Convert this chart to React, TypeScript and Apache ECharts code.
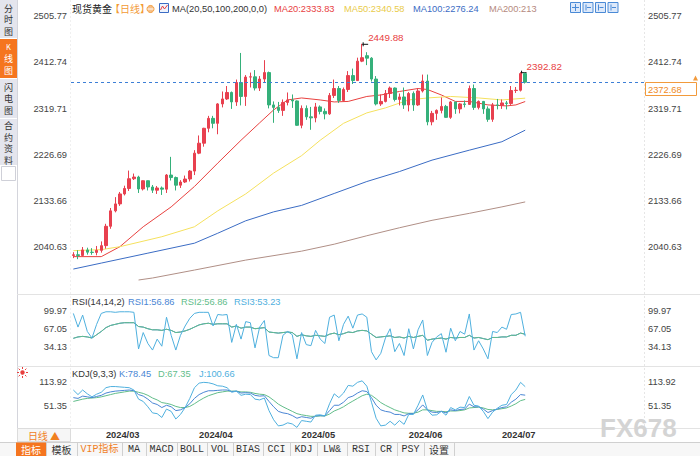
import React, { useEffect, useRef } from "react";
import * as echarts from "echarts";

// ---------- data ----------
const dates: string[] = [
  "2024/02/21", "2024/02/22", "2024/02/23", "2024/02/26", "2024/02/27", "2024/02/28", "2024/02/29",
  "2024/03/01", "2024/03/04", "2024/03/05", "2024/03/06", "2024/03/07", "2024/03/08", "2024/03/11",
  "2024/03/12", "2024/03/13", "2024/03/14", "2024/03/15", "2024/03/18", "2024/03/19", "2024/03/20",
  "2024/03/21", "2024/03/22", "2024/03/25", "2024/03/26", "2024/03/27", "2024/03/28",
  "2024/04/01", "2024/04/02", "2024/04/03", "2024/04/04", "2024/04/05", "2024/04/08", "2024/04/09",
  "2024/04/10", "2024/04/11", "2024/04/12", "2024/04/15", "2024/04/16", "2024/04/17", "2024/04/18",
  "2024/04/19", "2024/04/22", "2024/04/23", "2024/04/24", "2024/04/25", "2024/04/26", "2024/04/29",
  "2024/04/30",
  "2024/05/01", "2024/05/02", "2024/05/03", "2024/05/06", "2024/05/07", "2024/05/08", "2024/05/09",
  "2024/05/10", "2024/05/13", "2024/05/14", "2024/05/15", "2024/05/16", "2024/05/17", "2024/05/20",
  "2024/05/21", "2024/05/22", "2024/05/23", "2024/05/24", "2024/05/27", "2024/05/28", "2024/05/29",
  "2024/05/30", "2024/05/31",
  "2024/06/03", "2024/06/04", "2024/06/05", "2024/06/06", "2024/06/07", "2024/06/10", "2024/06/11",
  "2024/06/12", "2024/06/13", "2024/06/14", "2024/06/17", "2024/06/18", "2024/06/19", "2024/06/20",
  "2024/06/21", "2024/06/24", "2024/06/25", "2024/06/26", "2024/06/27", "2024/06/28",
  "2024/07/01", "2024/07/02", "2024/07/03", "2024/07/04", "2024/07/05", "2024/07/08",
];

// [open, close, low, high]
const candles: number[][] = [
  [2024.4, 2025.7, 2019.0, 2030.9], [2025.7, 2024.3, 2016.9, 2034.9], [2024.3, 2035.4, 2022.3, 2041.3],
  [2035.4, 2030.9, 2026.0, 2040.0], [2030.9, 2030.4, 2025.7, 2039.0], [2030.4, 2034.6, 2024.6, 2043.4],
  [2034.6, 2044.1, 2030.0, 2052.6], [2044.1, 2083.0, 2038.0, 2088.0], [2083.0, 2114.0, 2078.0, 2119.8],
  [2114.0, 2128.0, 2111.0, 2141.6], [2128.0, 2148.0, 2124.0, 2152.0], [2148.0, 2159.0, 2145.0, 2164.6],
  [2159.0, 2178.6, 2154.0, 2195.0], [2178.6, 2182.0, 2176.0, 2189.0], [2182.0, 2158.0, 2150.0, 2184.6],
  [2158.0, 2174.6, 2155.0, 2175.0], [2174.6, 2162.0, 2155.0, 2175.0], [2162.0, 2155.6, 2150.0, 2166.0],
  [2155.6, 2160.0, 2148.0, 2164.0], [2160.0, 2157.6, 2146.0, 2163.0], [2157.6, 2186.0, 2150.0, 2188.0],
  [2186.0, 2181.0, 2175.0, 2222.6], [2181.0, 2165.6, 2155.0, 2183.0], [2165.6, 2172.0, 2160.0, 2175.8],
  [2172.0, 2178.0, 2170.0, 2185.0], [2178.0, 2194.0, 2173.0, 2196.0], [2194.0, 2230.0, 2186.0, 2236.0],
  [2230.0, 2250.0, 2228.0, 2265.6], [2250.0, 2280.0, 2243.0, 2281.0], [2280.0, 2300.0, 2272.0, 2305.0],
  [2300.0, 2290.0, 2280.0, 2305.0], [2290.0, 2329.0, 2268.0, 2330.6], [2329.0, 2339.0, 2322.0, 2354.0],
  [2339.0, 2352.0, 2337.0, 2365.0], [2352.0, 2333.0, 2319.0, 2354.0], [2333.0, 2372.0, 2325.0, 2378.0],
  [2372.0, 2344.0, 2326.0, 2431.5], [2344.0, 2383.0, 2325.0, 2387.0], [2383.0, 2383.5, 2362.0, 2392.0],
  [2383.5, 2361.0, 2356.0, 2397.0], [2361.0, 2379.0, 2355.0, 2385.0], [2379.0, 2392.0, 2371.0, 2417.0],
  [2392.0, 2327.0, 2320.0, 2394.0], [2327.0, 2322.0, 2291.0, 2334.0], [2322.0, 2316.0, 2311.0, 2333.0],
  [2316.0, 2332.0, 2305.0, 2338.0], [2332.0, 2337.0, 2326.0, 2352.0], [2337.0, 2335.0, 2321.0, 2348.0],
  [2335.0, 2286.0, 2285.0, 2336.0], [2286.0, 2320.0, 2280.0, 2326.0], [2320.0, 2303.0, 2297.0, 2326.0],
  [2303.0, 2301.0, 2277.0, 2323.0], [2301.0, 2323.0, 2292.0, 2331.0], [2323.0, 2314.0, 2308.0, 2326.0],
  [2314.0, 2309.0, 2298.0, 2320.0], [2309.0, 2346.0, 2307.0, 2351.0], [2346.0, 2360.0, 2341.0, 2378.0],
  [2360.0, 2336.0, 2331.0, 2365.0], [2336.0, 2358.0, 2334.0, 2362.0], [2358.0, 2386.0, 2353.0, 2395.0],
  [2386.0, 2376.0, 2369.0, 2400.0], [2376.0, 2415.0, 2375.0, 2422.0], [2415.0, 2422.0, 2413.0, 2449.88],
  [2426.0, 2421.0, 2407.0, 2433.0], [2421.0, 2379.0, 2374.0, 2423.0], [2379.0, 2329.0, 2326.0, 2385.0],
  [2329.0, 2334.0, 2325.0, 2348.0], [2334.0, 2350.0, 2332.0, 2357.0], [2350.0, 2361.0, 2341.0, 2364.0],
  [2361.0, 2338.0, 2334.0, 2362.0], [2338.0, 2343.0, 2326.0, 2350.0], [2343.0, 2327.0, 2319.0, 2362.0],
  [2327.0, 2350.0, 2314.0, 2353.0], [2350.0, 2327.0, 2315.0, 2354.0], [2327.0, 2355.0, 2325.0, 2361.0],
  [2355.0, 2375.0, 2352.0, 2388.0], [2375.0, 2293.0, 2286.0, 2388.0], [2293.0, 2310.0, 2286.0, 2315.0],
  [2310.0, 2316.0, 2297.0, 2318.0], [2316.0, 2324.0, 2310.0, 2342.0], [2324.0, 2302.0, 2301.0, 2327.0],
  [2302.0, 2333.0, 2299.0, 2335.0], [2333.0, 2319.0, 2309.0, 2333.0], [2319.0, 2329.0, 2310.0, 2331.0],
  [2329.0, 2328.0, 2322.0, 2336.0], [2328.0, 2360.0, 2327.0, 2366.0], [2360.0, 2322.0, 2317.0, 2368.0],
  [2322.0, 2334.0, 2318.0, 2336.0], [2334.0, 2319.0, 2309.0, 2335.0], [2319.0, 2298.0, 2293.0, 2324.0],
  [2298.0, 2327.0, 2293.0, 2331.0], [2327.0, 2326.0, 2318.0, 2339.0], [2326.0, 2331.0, 2319.0, 2338.0],
  [2331.0, 2330.0, 2318.0, 2335.0], [2330.0, 2356.0, 2327.0, 2365.0], [2356.0, 2356.5, 2351.0, 2363.0],
  [2356.5, 2390.0, 2354.0, 2392.82], [2390.0, 2372.68, 2370.0, 2392.0],
];

const currentPrice = 2372.68;
const highMarks: number[][] = [[62, 2449.88], [96, 2392.82]];

// moving averages: [candle index, value]
const ma20: number[][] = [
  [0, 2022], [6, 2022], [10, 2042], [15, 2082], [21, 2122], [26, 2163], [31, 2210], [36, 2256],
  [40, 2291], [43, 2317], [46, 2337], [49, 2341], [53, 2337], [56, 2333], [59, 2334], [63, 2344],
  [66, 2347], [70, 2354], [74, 2360], [76, 2358], [79, 2347], [82, 2334], [85, 2334], [89, 2327],
  [93, 2325], [95, 2327], [97, 2333.83],
];
const ma50: number[][] = [
  [0, 2034], [6, 2036], [10, 2042], [19, 2062], [26, 2082], [31, 2114], [37, 2148], [43, 2190],
  [49, 2225], [53, 2256], [58, 2290], [63, 2311], [67, 2321], [72, 2337], [76, 2341], [81, 2344],
  [87, 2341], [92, 2337], [97, 2340.58],
];
const ma100: number[][] = [
  [0, 1997], [6, 2009], [16, 2029], [26, 2049], [31, 2069], [37, 2094], [43, 2112], [49, 2125],
  [56, 2149], [63, 2173], [70, 2193], [77, 2216], [85, 2236], [92, 2253], [97, 2276.24],
];
const ma200: number[][] = [
  [14, 1975], [17, 1979], [26, 1995], [37, 2015], [49, 2033], [56, 2047], [63, 2064], [70, 2080],
  [77, 2095], [85, 2109], [92, 2122], [97, 2132],
];

const rsi2: number[] = [
  49.5, 52, 53, 52, 50, 56, 62, 69, 73, 75,
  77, 78, 78, 78, 71, 70, 67, 65, 65, 64,
  66, 64, 60, 61, 63, 66, 70, 74, 76, 77,
  75, 76, 76, 76, 70, 72, 68, 70, 70, 67,
  68, 69, 61, 60, 59, 60, 61, 60, 53, 56,
  54, 53, 55, 54, 53, 57, 59, 56, 58, 61,
  60, 63, 64, 63, 57, 51, 52, 53, 54, 51,
  52, 50, 53, 51, 53, 55, 46, 48, 49, 50,
  48, 51, 50, 51, 51, 55, 50, 51, 49, 47,
  51, 51, 52, 52, 55, 55, 59, 56.86,
];
const rsi1: number[] = rsi2.slice();
const rsi3: number[] = [
  95, 70, 92, 62, 50, 75, 95, 98, 98, 97,
  98, 98, 98, 97, 30, 60, 40, 28, 48, 35,
  88, 55, 28, 55, 72, 86, 95, 97, 97, 97,
  72, 93, 92, 93, 42, 75, 48, 80, 78, 32,
  70, 82, 18, 14, 14, 55, 62, 56, 12, 60,
  38, 36, 64, 48, 40, 88, 92, 45, 75, 90,
  68, 92, 94, 88, 25, 10, 22, 50, 67, 25,
  40, 18, 67, 30, 65, 83, 18, 42, 52, 58,
  24, 68, 45, 62, 57, 94, 28, 45, 30, 12,
  62, 60, 70, 66, 93, 94, 97, 53.23,
];

const kLine: number[] = [
  72, 70, 76, 74, 72, 75, 78, 84, 87, 89,
  90, 91, 92, 90, 80, 76, 68, 58, 54, 46,
  52, 48, 38, 40, 46, 56, 70, 80, 86, 90,
  90, 91, 92, 92, 88, 89, 84, 85, 84, 78,
  76, 77, 62, 48, 36, 32, 30, 25, 18, 22,
  20, 18, 24, 25, 24, 38, 52, 52, 60, 72,
  76, 84, 90, 88, 72, 52, 40, 36, 34, 28,
  28, 24, 30, 30, 40, 53, 40, 34, 33, 36,
  32, 40, 38, 41, 42, 55, 48, 48, 42, 33,
  38, 42, 46, 48, 60, 68, 80, 78.45,
];
const dLine: number[] = [
  62, 65, 68, 70, 71, 72, 74, 77, 80, 83,
  85, 87, 89, 89, 86, 83, 78, 71, 66, 59,
  57, 54, 49, 46, 46, 49, 56, 64, 71, 77,
  81, 85, 87, 89, 89, 89, 87, 87, 86, 83,
  81, 80, 74, 65, 55, 48, 42, 36, 30, 27,
  25, 23, 23, 24, 24, 29, 37, 42, 48, 56,
  63, 70, 77, 81, 78, 69, 59, 52, 46, 40,
  36, 32, 31, 31, 34, 40, 40, 38, 36, 36,
  35, 37, 37, 38, 40, 45, 46, 47, 45, 41,
  40, 41, 43, 45, 50, 56, 64, 67.35,
];
const jLine: number[] = [
  92, 80, 92, 82, 74, 81, 86, 98, 101, 101,
  100, 99, 98, 92, 68, 62, 48, 32, 30, 20,
  42, 36, 16, 28, 46, 70, 98, 110, 112, 111,
  108, 103, 102, 98, 86, 89, 78, 81, 80, 68,
  66, 71, 38, 14, -2, 0, 6, 3, -6, 12,
  10, 8, 26, 27, 24, 56, 82, 72, 84, 104,
  102, 112, 116, 102, 60, 18, -2, 0, 10, 0,
  12, 2, 28, 28, 52, 79, 40, 26, 27, 36,
  26, 46, 40, 47, 46, 75, 52, 50, 36, 17,
  34, 44, 52, 54, 80, 92, 112, 100.66,
];

const mainTicks = [2040.63, 2133.66, 2226.69, 2319.71, 2412.74, 2505.77];
const rsiTicks = [34.13, 67.05, 99.97];
const kdjTicks = [51.35, 113.92];

const toolbarLabels = ["指标", "模板", "VIP指标", "MA", "MACD", "BOLL", "VOL", "BIAS", "CCI", "KDJ", "LW&", "RSI", "CR", "PSY", "设置"];
const sideTabs = [["分", "时", "图"], ["K", "线", "图"], ["闪", "电", "图"], ["合", "约", "资", "料"]];

// ---------- styling ----------
const FONT = '"Liberation Sans", Arial, "Noto Sans CJK SC", sans-serif';
const CJK = '"Noto Sans CJK SC", "Liberation Sans", sans-serif';
const MONO = '"Liberation Mono", "Noto Sans CJK SC", monospace';
const FS = 9.3;
const UP = "#e8404f";
const DOWN = "#35b07a";
const C_MA20 = "#e8413f";
const C_MA50 = "#f5e15e";
const C_MA100 = "#3b6cc4";
const C_MA200 = "#b08f86";
const C_R1 = "#4a86d4";
const C_R2 = "#62bd8a";
const C_R3 = "#4fb0de";
const ORANGE = "#f5751f";
const SLOTS = 123;

function txt(x: number, y: number, text: string, fill: string, size = FS, align = "left", family = FONT, extra: any = {}) {
  return {
    type: "text",
    x,
    y,
    silent: true,
    style: {
      text,
      fill,
      fontSize: size,
      fontFamily: family,
      align,
      verticalAlign: "middle",
      textAlign: align,
      textVerticalAlign: "middle",
      ...extra,
    },
  };
}
function ln(x1: number, y1: number, x2: number, y2: number, stroke: string, dash?: number[], w = 1) {
  return {
    type: "line",
    silent: true,
    shape: { x1, y1, x2, y2 },
    style: { stroke, lineWidth: w, lineDash: dash },
  };
}
function rc(x: number, y: number, w: number, h: number, fill: string, stroke?: string) {
  return {
    type: "rect",
    silent: true,
    shape: { x, y, width: w, height: h },
    style: { fill, stroke, lineWidth: 1 },
  };
}

export default function App() {
  const ref = useRef<HTMLDivElement>(null);

  useEffect(() => {
    document.body.style.margin = "0";
    const chart = echarts.init(ref.current as HTMLDivElement, null, { renderer: "svg", width: 700, height: 456 });

    const cats: string[] = dates.concat(
      Array.from({ length: SLOTS - dates.length }, (_, k) => "pad" + k)
    );
    const monthStart = new Set<number>();
    dates.forEach((d, i) => {
      if (i > 0 && d.slice(0, 7) !== dates[i - 1].slice(0, 7)) monthStart.add(i);
    });

    const yAx = (grid: number, pos: string, min: number, max: number, ticks: number[]) => ({
      type: "value",
      gridIndex: grid,
      position: pos,
      min,
      max,
      axisLine: { show: false },
      axisTick: { show: false },
      splitLine: { show: false },
      axisLabel: {
        customValues: ticks,
        margin: 4,
        color: "#444",
        fontSize: FS,
        fontFamily: FONT,
        formatter: (v: number) => v.toFixed(2),
      },
    });

    const xAx = (grid: number) => ({
      type: "category",
      gridIndex: grid,
      data: cats,
      boundaryGap: true,
      axisLine: { show: false },
      axisTick: { show: false },
      splitLine: { show: false },
      axisLabel:
        grid === 2
          ? {
              show: true,
              interval: (idx: number) => monthStart.has(idx),
              formatter: (v: string) => v.slice(0, 7),
              align: "left",
              margin: 2,
              color: "#333",
              fontWeight: "bold",
              fontSize: FS,
              fontFamily: FONT,
            }
          : { show: false },
    });

    const maSeries = (name: string, data: number[][], color: string) => ({
      name,
      type: "line",
      xAxisIndex: 0,
      yAxisIndex: 0,
      data,
      showSymbol: false,
      silent: true,
      lineStyle: { color, width: 1 },
      z: 3,
    });
    const subSeries = (name: string, data: number[], color: string, xi: number, yi: number) => ({
      name,
      type: "line",
      xAxisIndex: xi,
      yAxisIndex: yi,
      data,
      showSymbol: false,
      silent: true,
      lineStyle: { color, width: 1 },
    });

    const option: any = {
      animation: false,
      backgroundColor: "#ffffff",
      grid: [
        { left: 71, top: 8, width: 573, height: 285 },
        { left: 71, top: 294, width: 573, height: 72 },
        { left: 71, top: 366, width: 573, height: 62 },
      ],
      xAxis: [xAx(0), xAx(1), xAx(2)],
      yAxis: [
        yAx(0, "left", 1948.87, 2521.85, mainTicks),
        yAx(0, "right", 1948.87, 2521.85, mainTicks),
        yAx(1, "left", -1.16, 130.51, rsiTicks),
        yAx(1, "right", -1.16, 130.51, rsiTicks),
        yAx(2, "left", -7.56, 154.85, kdjTicks),
        yAx(2, "right", -7.56, 154.85, kdjTicks),
      ],
      series: [
        {
          name: "现货黄金",
          type: "candlestick",
          xAxisIndex: 0,
          yAxisIndex: 0,
          data: candles,
          barWidth: 3,
          silent: true,
          itemStyle: { color: UP, color0: DOWN, borderColor: UP, borderColor0: DOWN, borderWidth: 1 },
          markLine: {
            silent: true,
            symbol: "none",
            label: { show: false },
            lineStyle: { color: "#3d7fd6", type: [3, 3], width: 1 },
            data: [{ yAxis: currentPrice }],
          },
          z: 4,
        },
        maSeries("MA20", ma20, C_MA20),
        maSeries("MA50", ma50, C_MA50),
        maSeries("MA100", ma100, C_MA100),
        maSeries("MA200", ma200, C_MA200),
        subSeries("RSI1", rsi1, C_R1, 1, 2),
        subSeries("RSI2", rsi2, C_R2, 1, 2),
        subSeries("RSI3", rsi3, C_R3, 1, 2),
        subSeries("D", dLine, C_R2, 2, 4),
        subSeries("K", kLine, C_R1, 2, 4),
        subSeries("J", jLine, C_R3, 2, 4),
      ],
    };
    chart.setOption(option);

    const toPx = (i: number, v: number) => chart.convertToPixel({ seriesIndex: 0 }, [i, v]) as number[];

    const els: any[] = [];
    // left side bar
    els.push(rc(0, 0, 17, 165, "#e4e5ed"));
    els.push(rc(0, 39, 17, 39, ORANGE));
    els.push(ln(0, 38.5, 17, 38.5, "#ffffff"));
    els.push(ln(0, 78.5, 17, 78.5, "#ffffff"));
    els.push(ln(0, 118.5, 17, 118.5, "#ffffff"));
    els.push(rc(1.5, 166.5, 14, 14, "#ffffff", "#cfd0d8"));
    els.push(ln(17.5, 0, 17.5, 442, "#d4d5dc"));
    const sideY = [[8, 19.5, 31], [46, 58, 70], [87, 98.5, 110], [125.5, 137, 148.5, 160]];
    sideTabs.forEach((tab, t) => {
      tab.forEach((ch, k) => {
        els.push(txt(8.5, sideY[t][k], ch, t === 1 ? "#ffffff" : "#333333", ch === "K" ? 7.5 : 9, "center", CJK));
      });
    });

    // panel frames
    els.push(ln(17, 294.5, 700, 294.5, "#e3e3e3"));
    els.push(ln(17, 366.5, 700, 366.5, "#e3e3e3"));
    els.push(ln(17, 428.5, 700, 428.5, "#e3e3e3"));
    els.push(ln(644.5, 0, 644.5, 428, "#e6e6e6", [2, 2]));
    els.push(ln(70.5, 0, 70.5, 428, "#f0f0f0", [2, 2]));

    // title row
    els.push(txt(72, 8.5, "现货黄金", "#222222", 10, "left", CJK));
    els.push(txt(110, 8.5, "【日线】", "#f39a35", 10, "left", CJK));
    els.push({ type: "circle", silent: true, shape: { cx: 150.5, cy: 9, r: 3.5 }, style: { fill: "#f6c08a", stroke: "#f39a35", lineWidth: 1 } });
    els.push(ln(147.5, 9, 153.5, 9, "#ffffff"));
    els.push(rc(159.5, 3.5, 9, 9, "#eef3fc", "#3b6cc4"));
    els.push({ type: "polyline", silent: true, shape: { points: [[160.5, 10], [162.5, 6], [164.5, 9], [167.5, 5]] }, style: { stroke: "#e8413f", fill: "none", lineWidth: 1 } });
    els.push(txt(172, 8.5, "MA(20,50,100,200,0,0)", "#333333"));
    els.push(txt(274, 8.5, "MA20:2333.83", C_MA20));
    els.push(txt(344, 8.5, "MA50:2340.58", "#e9cb4a"));
    els.push(txt(413, 8.5, "MA100:2276.24", C_MA100));
    els.push(txt(489, 8.5, "MA200:213", "#b58a7e"));
    // tool icons
    [0, 1, 2, 3].forEach((k) => {
      const x = 570 + k * 12.5;
      els.push(rc(x + 0.5, 2.5, 10, 10, "#dde9fa", "#4a8ad6"));
      if (k === 0) {
        els.push(ln(x + 5.5, 4, x + 5.5, 11, "#4a8ad6"));
        els.push(ln(x + 2, 7.5, x + 9, 7.5, "#4a8ad6"));
      } else {
        els.push(ln(x + 3.5, 4.5, x + 3.5, 10.5, "#4a8ad6"));
        els.push(ln(x + 4.5, 7.5, x + 8.5, 7.5, "#4a8ad6"));
      }
    });

    // RSI + KDJ titles
    els.push(txt(72, 301.5, "RSI(14,14,2)", "#333333"));
    els.push(txt(128, 301.5, "RSI1:56.86", C_R1));
    els.push(txt(181, 301.5, "RSI2:56.86", C_R2));
    els.push(txt(234, 301.5, "RSI3:53.23", C_R3));
    els.push(txt(72, 374, "KDJ(9,3,3)", "#333333"));
    els.push(txt(119, 374, "K:78.45", C_R1));
    els.push(txt(158, 374, "D:67.35", C_R2));
    els.push(txt(199, 374, "J:100.66", C_R3));
    // sun icon
    els.push({ type: "circle", silent: true, shape: { cx: 22.5, cy: 372.5, r: 2.2 }, style: { fill: "#e8413f" } });
    [0, 45, 90, 135, 180, 225, 270, 315].forEach((deg) => {
      const a = (deg * Math.PI) / 180;
      els.push(ln(22.5 + Math.cos(a) * 3.5, 372.5 + Math.sin(a) * 3.5, 22.5 + Math.cos(a) * 5.5, 372.5 + Math.sin(a) * 5.5, "#e8413f"));
    });

    // footer "日线"
    els.push(rc(17.5, 428.5, 53, 13, "#f6f6f6", "#dcdcdc"));
    els.push(txt(44, 435, "日线 ▲", "#f0801f", 10, "center", CJK));

    // toolbar
    const edges = [16, 46, 77, 122, 146, 177, 207, 233, 263, 290, 317, 347, 375, 397, 424, 454];
    els.push(rc(0, 442, 700, 14, "#f7f7f7"));
    els.push(ln(0, 442.5, 700, 442.5, "#d0d0d0"));
    els.push(rc(edges[0], 442.5, edges[1] - edges[0], 13.5, ORANGE));
    toolbarLabels.forEach((lab, k) => {
      const cx = (edges[k] + edges[k + 1]) / 2;
      const color = k === 0 ? "#ffffff" : k === 2 ? "#f0801f" : "#333333";
      const isCjk = /[\u4e00-\u9fff]/.test(lab) && k !== 2;
      els.push(txt(cx, 449.5, lab, color, 10, "center", isCjk ? CJK : MONO));
    });
    edges.slice(1).forEach((x) => els.push(ln(x + 0.5, 442, x + 0.5, 456, "#d0d0d0")));

    // watermark
    els.push(txt(600, 428, "FX678", "#d4d4d4", 26, "left", FONT, { fontWeight: "bold" }));

    // current price box
    const pc = toPx(SLOTS - 1, currentPrice);
    const py = Math.round(pc[1]) + 0.5;
    els.push(rc(645.5, py, 51, 13, "#ffffff", "#f29a3c"));
    els.push(txt(648, py + 7, currentPrice.toFixed(2), "#f08a24"));
    els.push({ type: "polygon", silent: true, shape: { points: [[693, py - 2], [698, py - 2], [695.5, py - 7]] }, style: { fill: "#f29a3c" } });

    // highest markers
    highMarks.forEach(([i, v]) => {
      const p = toPx(i, v);
      els.push(ln(p[0], p[1] + 0.5, p[0] + 6, p[1] + 0.5, "#111111"));
      els.push(ln(p[0] + 1, p[1] - 1.5, p[0] + 1, p[1] + 2.5, "#111111"));
      els.push(txt(p[0] + 6, p[1] - 6, v.toFixed(2), "#e8413f", 9.8));
    });

    chart.setOption({ graphic: { elements: els } });

    return () => chart.dispose();
  }, []);

  return <div ref={ref} style={{ width: 700, height: 456 }} />;
}
